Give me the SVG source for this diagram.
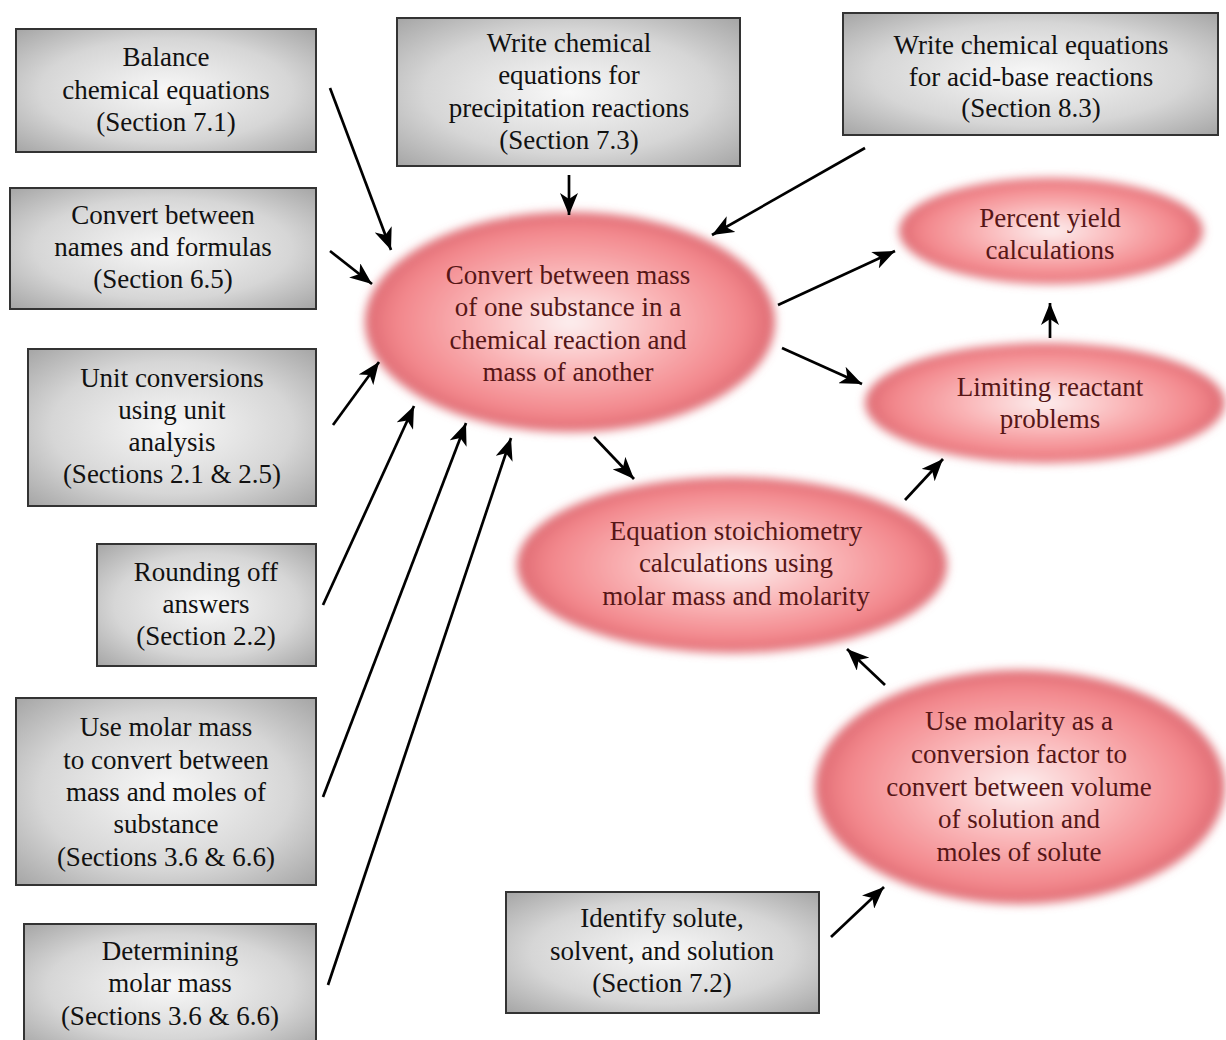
<svg xmlns="http://www.w3.org/2000/svg" width="1226" height="1040" viewBox="0 0 1226 1040">
<defs>
<radialGradient id="gbox" cx="0.5" cy="0.5" r="0.7">
<stop offset="0" stop-color="#f8f8f8"/>
<stop offset="0.6" stop-color="#d6d6d6"/>
<stop offset="1" stop-color="#a6a6a6"/>
</radialGradient>
<radialGradient id="gell" cx="0.5" cy="0.5" r="0.5">
<stop offset="0" stop-color="#fdf0f0"/>
<stop offset="0.5" stop-color="#f9b0b2"/>
<stop offset="0.85" stop-color="#f2868b"/>
<stop offset="1" stop-color="#de6b73"/>
</radialGradient>
<filter id="blur" x="-0.2" y="-0.3" width="1.4" height="1.6">
<feGaussianBlur stdDeviation="5"/>
</filter>
<marker id="ah" viewBox="0 0 22 18" refX="22" refY="9" markerWidth="22" markerHeight="18" markerUnits="userSpaceOnUse" orient="auto">
<path d="M0,0 L22,9 L0,18 L6,9 Z" fill="#000"/>
</marker>
</defs>
<style>
.box{fill:url(#gbox);stroke:#333;stroke-width:2}
.ell{fill:url(#gell);filter:url(#blur)}
.t{font-family:"Liberation Serif","Times New Roman",serif;font-size:27px;text-anchor:middle;fill:#111}
.e{fill:#561616}
.c{stroke:#000;stroke-width:2.7;fill:none;marker-end:url(#ah)}
</style>
<rect width="1226" height="1040" fill="#fff"/>

<g id="n-balance">
<rect class="box" x="16" y="29" width="300" height="123"/>
<text class="t" x="166" y="66">Balance</text>
<text class="t" x="166" y="99">chemical equations</text>
<text class="t" x="166" y="131">(Section 7.1)</text>
</g>
<g id="n-precip">
<rect class="box" x="397" y="18" width="343" height="148"/>
<text class="t" x="569" y="52">Write chemical</text>
<text class="t" x="569" y="84">equations for</text>
<text class="t" x="569" y="117">precipitation reactions</text>
<text class="t" x="569" y="149">(Section 7.3)</text>
</g>
<g id="n-acidbase">
<rect class="box" x="843" y="13" width="375" height="122"/>
<text class="t" x="1031" y="54">Write chemical equations</text>
<text class="t" x="1031" y="86">for acid-base reactions</text>
<text class="t" x="1031" y="117">(Section 8.3)</text>
</g>
<g id="n-names">
<rect class="box" x="10" y="188" width="306" height="121"/>
<text class="t" x="163" y="224">Convert between</text>
<text class="t" x="163" y="256">names and formulas</text>
<text class="t" x="163" y="288">(Section 6.5)</text>
</g>
<g id="n-units">
<rect class="box" x="28" y="349" width="288" height="157"/>
<text class="t" x="172" y="387">Unit conversions</text>
<text class="t" x="172" y="419">using unit</text>
<text class="t" x="172" y="451">analysis</text>
<text class="t" x="172" y="483">(Sections 2.1 &amp; 2.5)</text>
</g>
<g id="n-rounding">
<rect class="box" x="97" y="544" width="219" height="122"/>
<text class="t" x="206" y="581">Rounding off</text>
<text class="t" x="206" y="613">answers</text>
<text class="t" x="206" y="645">(Section 2.2)</text>
</g>
<g id="n-molarmass">
<rect class="box" x="16" y="698" width="300" height="187"/>
<text class="t" x="166" y="736">Use molar mass</text>
<text class="t" x="166" y="769">to convert between</text>
<text class="t" x="166" y="801">mass and moles of</text>
<text class="t" x="166" y="833">substance</text>
<text class="t" x="166" y="866">(Sections 3.6 &amp; 6.6)</text>
</g>
<g id="n-determining">
<rect class="box" x="24" y="924" width="292" height="125"/>
<text class="t" x="170" y="960">Determining</text>
<text class="t" x="170" y="992">molar mass</text>
<text class="t" x="170" y="1025">(Sections 3.6 &amp; 6.6)</text>
</g>
<g id="n-solute">
<rect class="box" x="506" y="892" width="313" height="121"/>
<text class="t" x="662" y="927">Identify solute,</text>
<text class="t" x="662" y="960">solvent, and solution</text>
<text class="t" x="662" y="992">(Section 7.2)</text>
</g>

<g id="n-central">
<ellipse class="ell" cx="570" cy="322" rx="205" ry="110"/>
<text class="t e" x="568" y="284">Convert between mass</text>
<text class="t e" x="568" y="316">of one substance in a</text>
<text class="t e" x="568" y="349">chemical reaction and</text>
<text class="t e" x="568" y="381">mass of another</text>
</g>
<g id="n-percent">
<ellipse class="ell" cx="1051" cy="231" rx="152" ry="53"/>
<text class="t e" x="1050" y="227">Percent yield</text>
<text class="t e" x="1050" y="259">calculations</text>
</g>
<g id="n-limiting">
<ellipse class="ell" cx="1045" cy="403" rx="180" ry="60"/>
<text class="t e" x="1050" y="396">Limiting reactant</text>
<text class="t e" x="1050" y="428">problems</text>
</g>
<g id="n-stoich">
<ellipse class="ell" cx="732" cy="565" rx="215" ry="88"/>
<text class="t e" x="736" y="540">Equation stoichiometry</text>
<text class="t e" x="736" y="572">calculations using</text>
<text class="t e" x="736" y="605">molar mass and molarity</text>
</g>
<g id="n-molarity">
<ellipse class="ell" cx="1020" cy="787" rx="205" ry="117"/>
<text class="t e" x="1019" y="730">Use molarity as a</text>
<text class="t e" x="1019" y="763">conversion factor to</text>
<text class="t e" x="1019" y="796">convert between volume</text>
<text class="t e" x="1019" y="828">of solution and</text>
<text class="t e" x="1019" y="861">moles of solute</text>
</g>

<g id="connectors">
<line class="c" x1="330" y1="88" x2="391" y2="250"/>
<line class="c" x1="330" y1="251" x2="372" y2="284"/>
<line class="c" x1="333" y1="425" x2="379" y2="362"/>
<line class="c" x1="323" y1="605" x2="414" y2="406"/>
<line class="c" x1="323" y1="797" x2="466" y2="423"/>
<line class="c" x1="328" y1="985" x2="511" y2="438"/>
<line class="c" x1="569" y1="175" x2="569" y2="215"/>
<line class="c" x1="865" y1="148" x2="712" y2="235"/>
<line class="c" x1="778" y1="305" x2="895" y2="251"/>
<line class="c" x1="782" y1="348" x2="862" y2="384"/>
<line class="c" x1="594" y1="437" x2="634" y2="479"/>
<line class="c" x1="905" y1="500" x2="943" y2="459"/>
<line class="c" x1="1050" y1="338" x2="1050" y2="303"/>
<line class="c" x1="885" y1="685" x2="847" y2="649"/>
<line class="c" x1="831" y1="937" x2="884" y2="887"/>
</g>
</svg>
